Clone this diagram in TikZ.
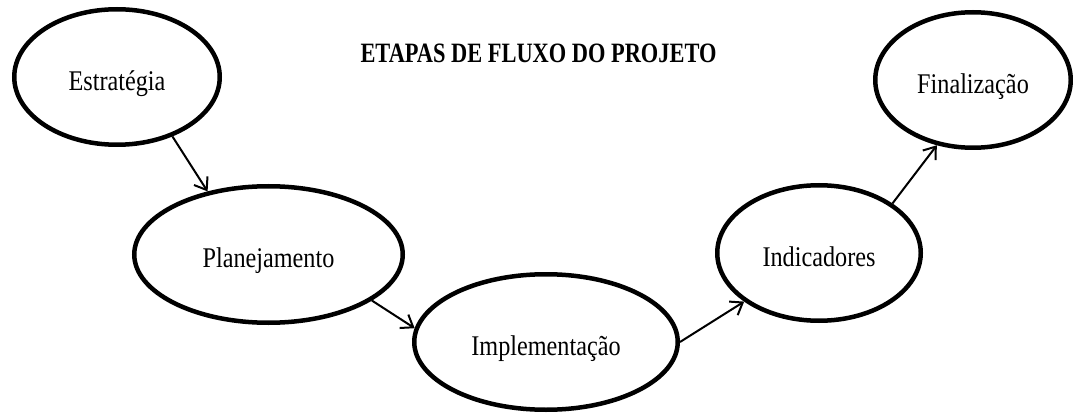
\documentclass[tikz,border=0pt]{standalone}
\usepackage{fontspec}
\setmainfont{Liberation Serif}[FakeStretch=0.85]
\newfontfamily\titlefont{Liberation Serif}[FakeStretch=0.8]
\usetikzlibrary{shapes.geometric,arrows.meta}
\begin{document}
\begin{tikzpicture}[x=1pt,y=-1pt,
  stage/.style={ellipse, draw, line width=4.5pt, inner sep=0pt,
    font=\fontsize{28.5}{30}\selectfont, text height=26.5pt, text depth=0pt},
  flow/.style={-{Straight Barb[length=11pt,width=16pt]}, line width=2pt},
  heading/.style={font=\titlefont\bfseries\fontsize{28}{30}\selectfont,
    text height=18.5pt, text depth=0pt, inner sep=0pt}]
\useasboundingbox (0,0) rectangle (1073,414);
\node[heading] (T) at (538.5,53.5) {ETAPAS DE FLUXO DO PROJETO};
\node[stage, minimum width=205.5pt, minimum height=135.5pt] (E) at (117,77) {Estratégia};
\node[stage, minimum width=268.5pt, minimum height=136.5pt] (P) at (268.5,254.5) {Planejamento};
\node[stage, minimum width=263.5pt, minimum height=135.5pt] (I) at (546,342) {Implementação};
\node[stage, minimum width=203.5pt, minimum height=135.5pt] (Ind) at (819,253) {Indicadores};
\node[stage, minimum width=195.5pt, minimum height=135.5pt] (F) at (973,80) {Finalização};
\draw[flow] (E.-47) -- (P.134);
\draw[flow] (P.-24) -- (I.174);
\draw[flow] (I.0) -- (Ind.213);
\draw[flow] (Ind.34) -- (F.241);
\end{tikzpicture}
\end{document}
